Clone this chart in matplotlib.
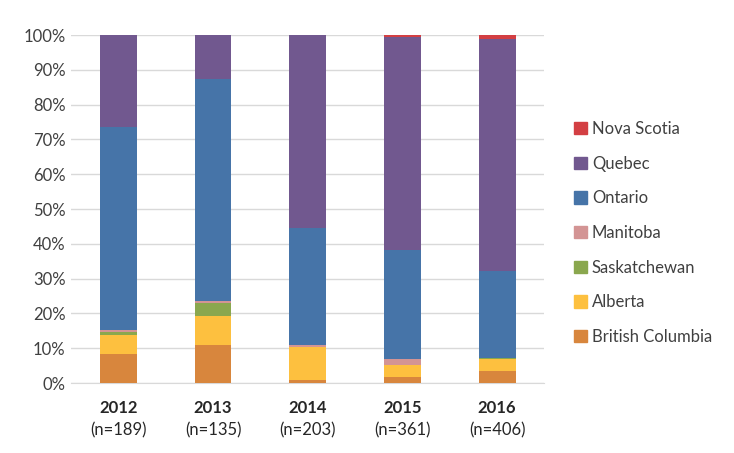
import numpy as np
import matplotlib
matplotlib.use('Agg')
from matplotlib import pyplot as plt
from matplotlib.patches import Patch

years = ['2012', '2013', '2014', '2015', '2016']
sizes = ['(n=189)', '(n=135)', '(n=203)', '(n=361)', '(n=406)']

provinces = ['British Columbia', 'Alberta', 'Saskatchewan', 'Manitoba',
             'Ontario', 'Quebec', 'Nova Scotia']
british_columbia = [8.3, 11.0, 1.0, 1.6, 3.5]
alberta = [5.4, 8.3, 9.3, 3.7, 3.5]
saskatchewan = [1.0, 3.8, 0.0, 0.0, 0.3]
manitoba = [0.5, 0.6, 0.5, 1.5, 0.0]
ontario = [58.4, 63.7, 33.7, 31.4, 24.9]
quebec = [26.4, 12.6, 55.5, 61.3, 66.8]
nova_scotia = [0.0, 0.0, 0.0, 0.5, 1.0]

series = [british_columbia, alberta, saskatchewan, manitoba, ontario, quebec, nova_scotia]
colors = ['#D8863D', '#FDC03F', '#8AA74E', '#D39494', '#4674A8', '#71588F', '#D33F43']

plt.rcParams['font.family'] = ['Lato', 'DejaVu Sans']

fig = plt.figure(figsize=(7.34, 4.53), dpi=100)
ax = fig.add_axes([0.0967, 0.1545, 0.645, 0.768])

x = np.arange(len(years))
bottom = np.zeros(len(years))
for vals, c in zip(series, colors):
    vals = np.array(vals)
    ax.bar(x, vals, 0.39, bottom=bottom, color=c, zorder=3)
    bottom += vals

ax.set_xlim(-0.5, len(years) - 0.5)
ax.set_ylim(0, 100)
ax.set_yticks(range(0, 101, 10))
ax.set_yticklabels([f'{v}%' for v in range(0, 101, 10)], fontsize=12, color='#404040')
ax.yaxis.grid(True, color='#D9D9D9', linewidth=1, zorder=0)
ax.tick_params(length=0)
ax.tick_params(axis='y', pad=4)
for s in ['top', 'right', 'left']:
    ax.spines[s].set_visible(False)
ax.spines['bottom'].set_color('#D9D9D9')

ax.set_xticks(x)
ax.set_xticklabels(years, fontsize=12, fontweight='bold', color='#262626')
ax.tick_params(axis='x', pad=12)
for xi, n in zip(x, sizes):
    ax.text(xi, -0.135, n, transform=ax.get_xaxis_transform(), ha='center', va='center',
            fontsize=12, color='#262626')

handles = [Patch(color=c, label=p) for p, c in zip(provinces, colors)][::-1]
fig.legend(handles=handles, loc='upper left', bbox_to_anchor=(0.762, 0.766), frameon=False,
           fontsize=12, handlelength=0.75, handleheight=0.75, handletextpad=0.3,
           labelspacing=1.12, labelcolor='#404040')

fig.savefig('out.png', dpi=100)
